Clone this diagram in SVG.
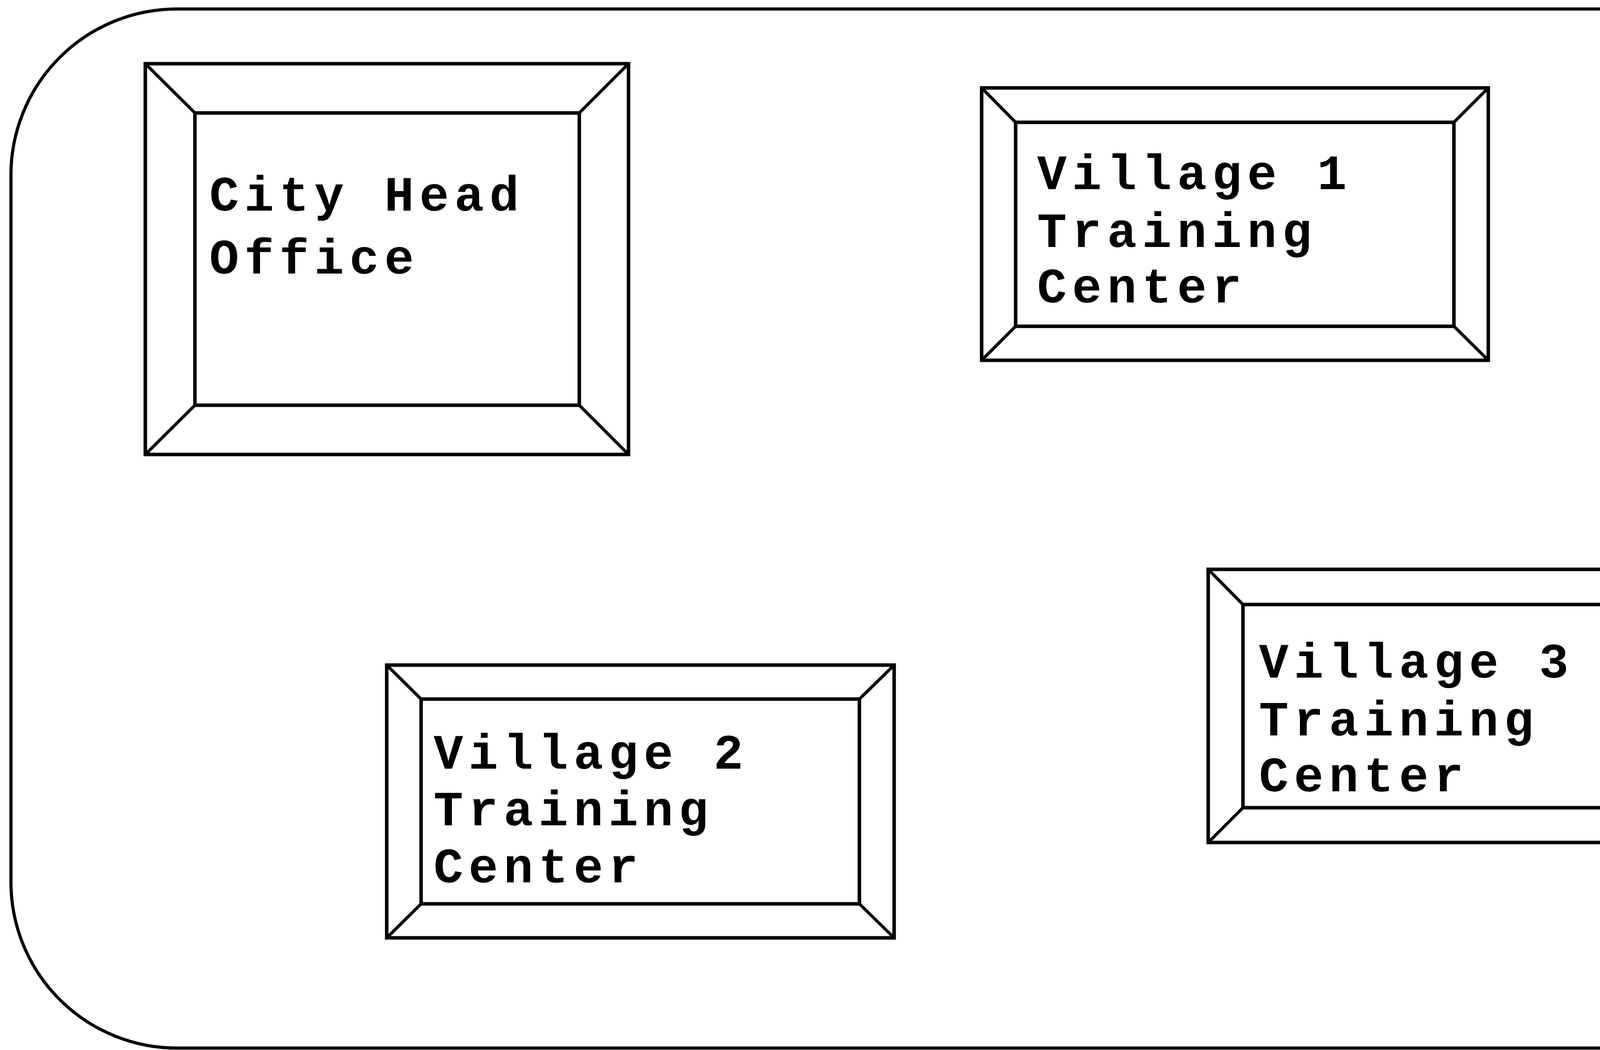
<svg xmlns="http://www.w3.org/2000/svg" width="4712" height="2687" viewBox="0 0 4712 2687">
<style>
.frame{fill:none;stroke:#000;stroke-width:8}
.box{fill:#fff;stroke:#000;stroke-width:9}
.bev{fill:none;stroke:#000;stroke-width:8;stroke-linecap:round}
.lbl{font-family:"Liberation Mono","Courier New",monospace;font-weight:bold;font-size:126px;letter-spacing:14px;fill:#000}
</style>
<rect width="4712" height="2687" fill="#fff"/>
<rect id="boundary" class="frame" x="28" y="23" width="4677" height="2659" rx="425" ry="425"/>
<g id="city-head-office">
<rect class="box" x="372" y="163" width="1237" height="1000"/>
<rect class="box" x="499" y="289" width="984" height="748"/>
<path class="bev" d="M372 163L499 289M1609 163L1483 289M372 1163L499 1037M1609 1163L1483 1037"/>
<text class="lbl" x="536" y="539">City Head</text>
<text class="lbl" x="536" y="700">Office</text>
</g>
<g id="village-1">
<rect class="box" x="2513" y="225" width="1297" height="697"/>
<rect class="box" x="2600" y="313" width="1122" height="522"/>
<path class="bev" d="M2513 225L2600 313M3810 225L3722 313M2513 922L2600 835M3810 922L3722 835"/>
<text class="lbl" x="2655" y="484">Village 1</text>
<text class="lbl" x="2655" y="632">Training</text>
<text class="lbl" x="2655" y="774">Center</text>
</g>
<g id="village-2">
<rect class="box" x="990" y="1702" width="1299" height="698"/>
<rect class="box" x="1078" y="1789" width="1122" height="524"/>
<path class="bev" d="M990 1702L1078 1789M2289 1702L2200 1789M990 2400L1078 2313M2289 2400L2200 2313"/>
<text class="lbl" x="1110" y="1967">Village 2</text>
<text class="lbl" x="1110" y="2112">Training</text>
<text class="lbl" x="1110" y="2258">Center</text>
</g>
<g id="village-3">
<rect class="box" x="3093" y="1457" width="1299" height="699"/>
<rect class="box" x="3182" y="1547" width="1122" height="520"/>
<path class="bev" d="M3093 1457L3182 1547M4392 1457L4304 1547M3093 2156L3182 2067M4392 2156L4304 2067"/>
<text class="lbl" x="3223" y="1734">Village 3</text>
<text class="lbl" x="3223" y="1882">Training</text>
<text class="lbl" x="3223" y="2025">Center</text>
</g>
<g id="connectors"></g>
</svg>
